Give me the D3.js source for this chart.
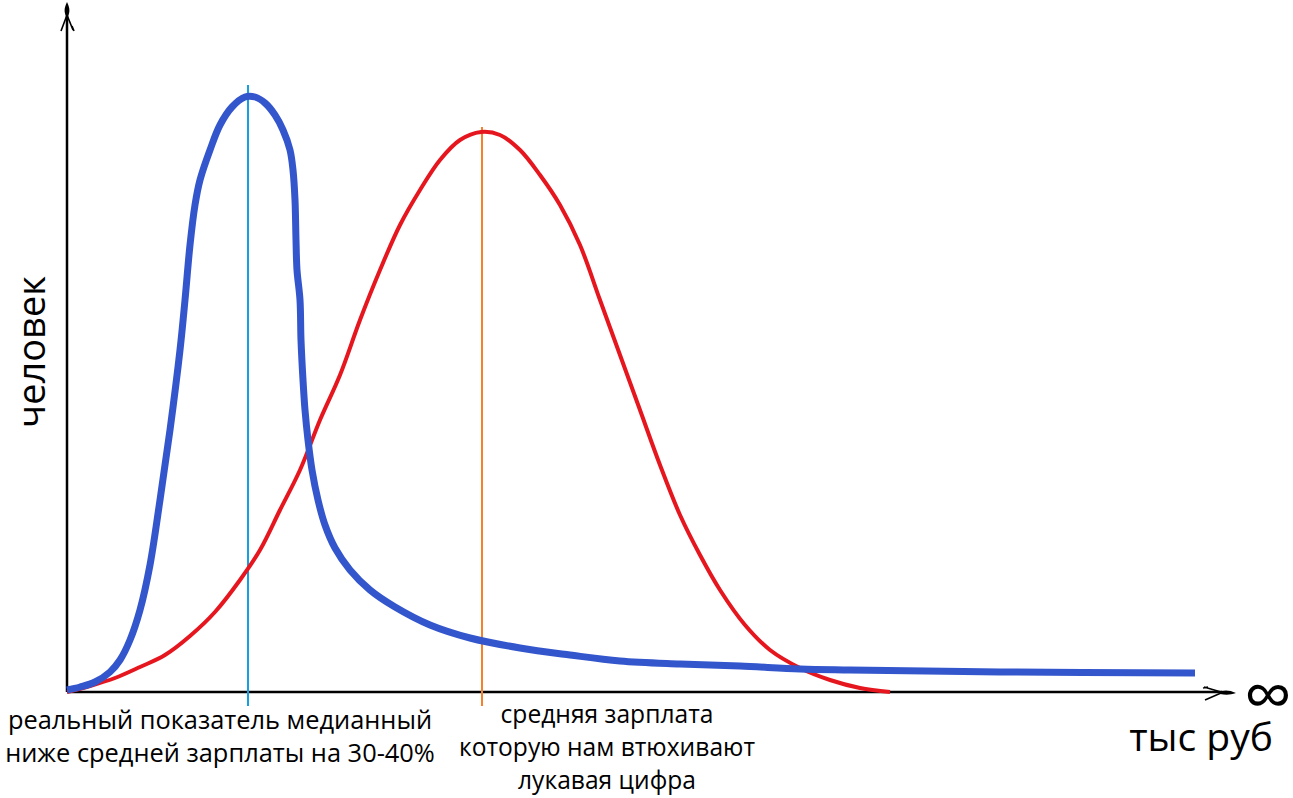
<!DOCTYPE html>
<html>
<head>
<meta charset="utf-8">
<script src="https://cdn.jsdelivr.net/npm/d3@7"></script>
<style>
  body { margin: 0; background: #fff; }
  text { font-family: "Open Sans", "Noto Sans", sans-serif; fill: #000; }
</style>
</head>
<body>
<div id="chart"></div>
<script>
const realX = [0, 13, 28, 43, 53, 63, 73, 83, 93, 103, 113, 118, 123, 128, 133, 143, 153, 165, 178, 188, 198, 208, 216, 223, 226, 228, 229, 230, 233, 234, 236, 238, 241, 245, 251, 258, 268, 283, 303, 328, 363, 403, 453, 503, 553, 613, 673, 733, 783, 933, 1128];
const realY = [2, 5, 10, 20, 32, 52, 82, 127, 192, 262, 342, 392, 447, 487, 512, 542, 567, 585, 595, 595, 589, 577, 562, 542, 522, 492, 452, 422, 392, 352, 312, 282, 252, 222, 192, 167, 144, 122, 102, 85, 67, 54, 44, 37, 31, 28, 26, 23, 22, 20, 19];

// "official" average salary curve
const avgX = [0, 23, 48, 73, 98, 123, 148, 173, 193, 213, 233, 253, 273, 293, 313, 333, 353, 373, 393, 414, 433, 453, 473, 493, 513, 533, 553, 573, 593, 613, 633, 653, 678, 703, 733, 763, 793, 823];
const avgY = [0, 6, 14, 25, 37, 56, 80, 112, 142, 182, 222, 272, 317, 372, 422, 467, 502, 532, 552, 560, 557, 542, 517, 487, 447, 392, 337, 282, 227, 177, 137, 102, 67, 42, 24, 12, 4, 0];

const medianX = 181;   // median marker
const meanX = 415;     // mean marker

const leftLabel = ["реальный показатель медианный", "ниже средней зарплаты на 30-40%"];
const rightLabel = ["средняя зарплата", "которую нам втюхивают", "лукавая цифра"];

const W = 1293, H = 798;
const x0 = 67, y0 = 692;

const svg = d3.select("#chart").append("svg")
    .attr("width", W)
    .attr("height", H);

const x = d3.scaleLinear().domain([0, 1168]).range([x0, x0 + 1168]);
const y = d3.scaleLinear().domain([0, 687]).range([y0, y0 - 687]);

const line = d3.line()
    .x(d => x(d[0]))
    .y(d => y(d[1]))
    .curve(d3.curveCatmullRom.alpha(0.5));

// axes
svg.append("line")
    .attr("x1", x0).attr("y1", y0)
    .attr("x2", x0).attr("y2", 12)
    .attr("stroke", "#000").attr("stroke-width", 2.5);

svg.append("line")
    .attr("x1", x0).attr("y1", y0)
    .attr("x2", 1222).attr("y2", y0)
    .attr("stroke", "#000").attr("stroke-width", 2.5);

// y arrow head
svg.append("path")
    .attr("d", "M67,2 C70,8 70,12 68,16 L66,16 C64,12 64,8 67,2 Z")
    .attr("fill", "#000");
svg.append("path")
    .attr("d", "M67,15 L61,31 M67,15 L73,30 M72,26 L74,31")
    .attr("stroke", "#000").attr("stroke-width", 1.6).attr("fill", "none");

// x arrow head
svg.append("path")
    .attr("d", "M1236,693 C1230,690 1226,690 1220,691 L1220,694 C1226,695 1230,695 1236,693 Z")
    .attr("fill", "#000");
svg.append("path")
    .attr("d", "M1221,692 L1204,687 M1221,693 L1205,700 M1208,687 L1203,688")
    .attr("stroke", "#000").attr("stroke-width", 1.6).attr("fill", "none");

// marker lines
svg.append("line")
    .attr("x1", x(medianX)).attr("x2", x(medianX))
    .attr("y1", 85).attr("y2", 706)
    .attr("stroke", "#15a0e0").attr("stroke-width", 2);

svg.append("line")
    .attr("x1", x(meanX)).attr("x2", x(meanX))
    .attr("y1", 127).attr("y2", 706)
    .attr("stroke", "#f5822a").attr("stroke-width", 2);

// curves
svg.append("path")
    .datum(d3.zip(avgX, avgY))
    .attr("d", line)
    .attr("fill", "none")
    .attr("stroke", "#e6161f")
    .attr("stroke-width", 4)
    .attr("stroke-linejoin", "round");

svg.append("path")
    .datum(d3.zip(realX, realY))
    .attr("d", line)
    .attr("fill", "none")
    .attr("stroke", "#3456cd")
    .attr("stroke-width", 7)
    .attr("stroke-linejoin", "round");

// labels
svg.append("text")
    .attr("transform", "translate(45,352) rotate(-90)")
    .attr("text-anchor", "middle")
    .style("font-size", "38px")
    .text("человек");

svg.append("text")
    .attr("x", 1201).attr("y", 751)
    .attr("text-anchor", "middle")
    .style("font-size", "39px")
    .text("тыс руб");

svg.append("text")
    .attr("x", 1268).attr("y", 719)
    .attr("text-anchor", "middle")
    .style("font-size", "68px")
    .style("line-height", 1)
    .text("∞");

svg.selectAll(".left-label")
    .data(leftLabel)
    .enter().append("text")
    .attr("class", "left-label")
    .attr("x", 220)
    .attr("y", (d, i) => 729 + i * 33)
    .attr("text-anchor", "middle")
    .style("font-size", "25.4px")
    .text(d => d);

svg.selectAll(".right-label")
    .data(rightLabel)
    .enter().append("text")
    .attr("class", "right-label")
    .attr("x", 607)
    .attr("y", (d, i) => 723 + i * 33)
    .attr("text-anchor", "middle")
    .style("font-size", "24.6px")
    .text(d => d);
</script>
</body>
</html>
